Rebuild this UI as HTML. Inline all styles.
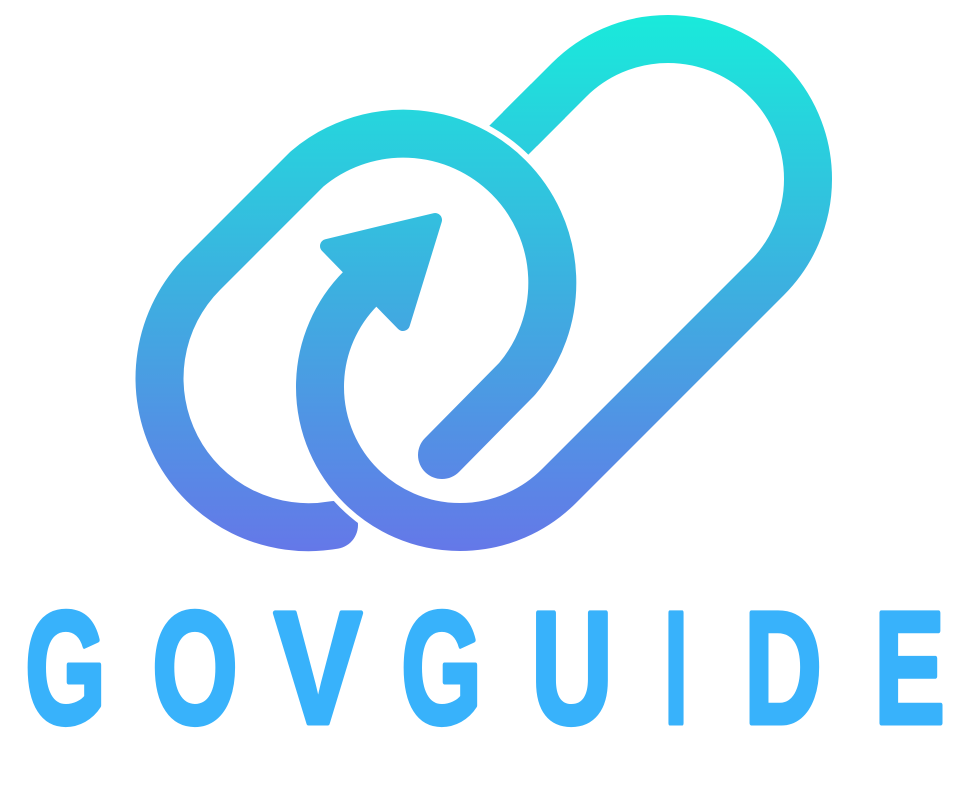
<!DOCTYPE html>
<html><head><meta charset="utf-8"><style>
html,body{margin:0;padding:0;background:#fff;width:963px;height:793px;overflow:hidden}
svg{display:block}
</style></head><body>
<svg width="963" height="793" viewBox="0 0 963 793">
<defs>
<linearGradient id="g" gradientUnits="userSpaceOnUse" x1="0" y1="20" x2="0" y2="555">
<stop offset="0" stop-color="#1ae9db"/>
<stop offset="0.5" stop-color="#3cb0e0"/>
<stop offset="1" stop-color="#6577e8"/>
</linearGradient>
</defs>
<g fill="none" stroke-linejoin="round">
<!-- stub of right link behind left link -->
<path d="M548,101 L490,159" stroke="url(#g)" stroke-width="48"/>
<!-- left pill -->
<path d="M442,455 L517,379 A149,149 0 0 0 307,169 L203,273 A149,149 0 0 0 334,525" stroke="#fff" stroke-width="60" stroke-linecap="round"/>
<path d="M442,455 L517,379 A149,149 0 0 0 307,169 L203,273 A149,149 0 0 0 334,525" stroke="url(#g)" stroke-width="48" stroke-linecap="round"/>
<!-- right pill -->
<path d="M368,281 L361,288 A140,140 0 0 0 559,486 L767,278 A140,140 0 0 0 569,80 L540,109" stroke="#fff" stroke-width="60" stroke-linecap="butt"/>
<path d="M368,281 L361,288 A140,140 0 0 0 559,486 L767,278 A140,140 0 0 0 569,80 L540,109" stroke="url(#g)" stroke-width="48" stroke-linecap="butt"/>
<path d="M548,101 L520,129" stroke="url(#g)" stroke-width="48"/>
<polygon points="435,220 403,324 327,246" fill="url(#g)" stroke="url(#g)" stroke-width="14" stroke-linejoin="round"/>
</g>
<g fill="#38b2fb" stroke="#38b2fb" stroke-width="5" stroke-linejoin="round" font-family="'Liberation Sans',sans-serif" font-weight="bold" font-size="160">
<text x="25" y="723" textLength="81" lengthAdjust="spacingAndGlyphs">G</text>
<text x="152" y="723" textLength="86" lengthAdjust="spacingAndGlyphs">O</text>
<text x="274" y="723" textLength="88" lengthAdjust="spacingAndGlyphs">V</text>
<text x="401" y="723" textLength="81" lengthAdjust="spacingAndGlyphs">G</text>
<text x="531" y="723" textLength="82" lengthAdjust="spacingAndGlyphs">U</text>
<text x="664" y="723" textLength="24" lengthAdjust="spacingAndGlyphs">I</text>
<text x="744" y="723" textLength="78" lengthAdjust="spacingAndGlyphs">D</text>
<text x="874" y="723" textLength="71" lengthAdjust="spacingAndGlyphs">E</text>
</g>
</svg>
</body></html>
